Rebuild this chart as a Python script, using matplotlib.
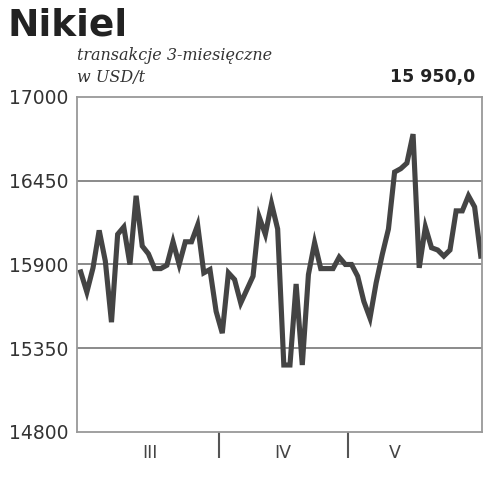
import matplotlib
matplotlib.use("Agg")
import matplotlib.pyplot as plt

# nickel 3-month prices, USD/t
prices = [15851, 15719, 15878, 16124, 15922, 15521, 16098, 16146, 15900, 16351,
          16021, 15970, 15873, 15873, 15895, 16049, 15900, 16049, 16049, 16159,
          15845, 15867, 15592, 15449, 15845, 15801, 15647, 15735, 15823, 16212,
          16098, 16300, 16133, 15240, 15240, 15772, 15240, 15834, 16043, 15873,
          15873, 15873, 15948, 15900, 15900, 15823, 15658, 15548, 15779, 15966,
          16133, 16507, 16529, 16566, 16756, 15878, 16146, 16010, 15995, 15955,
          15995, 16252, 16252, 16351, 16278, 15955]
y_ticks = [14800, 15350, 15900, 16450, 17000]
month_labels = ["III", "IV", "V"]
month_label_pos = [11.3, 32.9, 51.0]
month_breaks = [22.5, 43.5]

fig = plt.figure(figsize=(4.85, 4.8), dpi=100)
ax = fig.add_axes([0.1588, 0.1, 0.835, 0.698])

ax.plot(range(len(prices)), prices, color="#444444", lw=3.7, solid_joinstyle="miter")
ax.set_xlim(-0.6, 65.2)
ax.set_ylim(14800, 17000)

# y axis
ax.set_yticks(y_ticks)
ax.tick_params(axis="y", length=0, pad=6, labelsize=13.5, labelcolor="#333333")
for v in y_ticks[1:-1]:
    ax.axhline(v, color="#8a8a8a", lw=1.4, zorder=0)

# x axis: month breaks as long ticks, month names in between
ax.set_xticks(month_breaks)
ax.set_xticklabels([])
ax.tick_params(axis="x", which="major", length=19, width=1.5, color="#555555", direction="out")
ax.set_xticks(month_label_pos, minor=True)
ax.set_xticklabels(month_labels, minor=True)
ax.tick_params(axis="x", which="minor", length=0, pad=9, labelsize=12.5, labelcolor="#444444")

for s in ax.spines.values():
    s.set_color("#999999")
    s.set_linewidth(1.3)

fig.text(0.016, 0.985, "Nikiel", fontsize=27, fontweight="bold", va="top", color="#222222")
fig.text(0.159, 0.875, "transakcje 3-miesięczne", fontsize=11.5, style="italic",
         family="DejaVu Serif", color="#333333", va="baseline")
fig.text(0.159, 0.83, "w USD/t", fontsize=11.5, style="italic",
         family="DejaVu Serif", color="#333333", va="baseline")
fig.text(0.98, 0.83, "15 950,0", fontsize=12.5, fontweight="bold", ha="right",
         va="baseline", color="#222222")

fig.savefig("out.png", dpi=100)
